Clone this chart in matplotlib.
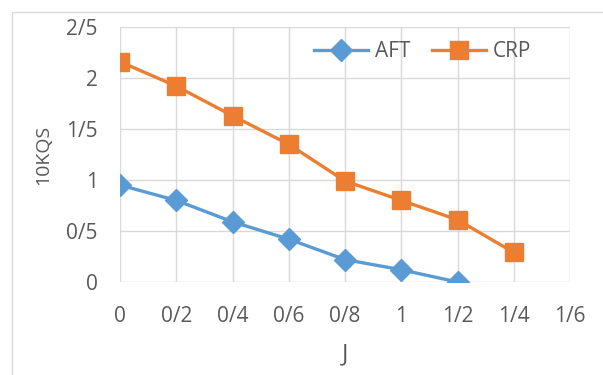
import matplotlib.pyplot as plt
from matplotlib.patches import Rectangle

# data
aft_x = [0, 0.2, 0.4, 0.6, 0.8, 1.0, 1.2]
aft_y = [0.95, 0.80, 0.59, 0.42, 0.22, 0.12, 0.0]
crp_x = [0, 0.2, 0.4, 0.6, 0.8, 1.0, 1.2, 1.4]
crp_y = [2.16, 1.92, 1.63, 1.35, 0.99, 0.80, 0.61, 0.29]
x_ticks = [0, 0.2, 0.4, 0.6, 0.8, 1.0, 1.2, 1.4, 1.6]
x_labels = ['0', '0/2', '0/4', '0/6', '0/8', '1', '1/2', '1/4', '1/6']
y_ticks = [0, 0.5, 1, 1.5, 2, 2.5]
y_labels = ['0', '0/5', '1', '1/5', '2', '2/5']

plt.rcParams['font.family'] = ['Open Sans', 'DejaVu Sans']
gray = '#595959'
grid = '#d9d9d9'

fig = plt.figure(figsize=(6.03, 3.75), dpi=100)
# chart border, cut off by the image on the right and bottom
fig.patches.append(Rectangle((12 / 603, -0.1), 1.0, (375 - 12) / 375 + 0.1,
                             transform=fig.transFigure, fill=False,
                             edgecolor=grid, linewidth=1))
ax = fig.add_axes([120 / 603, 1 - 282 / 375, 450 / 603, 255 / 375])

ax.plot(aft_x, aft_y, color='#5b9bd5', lw=2.4, marker='D', ms=11, label='AFT')
ax.plot(crp_x, crp_y, color='#ed7d31', lw=2.4, marker='s', ms=12.5, label='CRP')

ax.set_xlim(0, 1.6)
ax.set_ylim(0, 2.5)
ax.set_xticks(x_ticks, x_labels)
ax.set_yticks(y_ticks, y_labels)
ax.grid(True, color=grid, lw=1)
ax.set_axisbelow(True)
for s in ax.spines.values():
    s.set_visible(False)
ax.tick_params(length=0, labelsize=15, labelcolor=gray)
ax.tick_params(axis='x', pad=17)
ax.tick_params(axis='y', pad=16)

ax.set_xlabel('J', fontsize=17, color=gray)
ax.xaxis.set_label_coords(0.5, -0.235)
ax.set_ylabel('10KQS', fontsize=14, color=gray)
ax.yaxis.set_label_coords(-0.15, 0.5)

ax.legend(loc='center right', bbox_to_anchor=(0.913, 0.902), ncol=2,
          frameon=False, fontsize=15, labelcolor=gray, handlelength=2.6,
          columnspacing=1.05, handletextpad=0.3, borderpad=0, borderaxespad=0)

plt.savefig('out.png', dpi=100)
